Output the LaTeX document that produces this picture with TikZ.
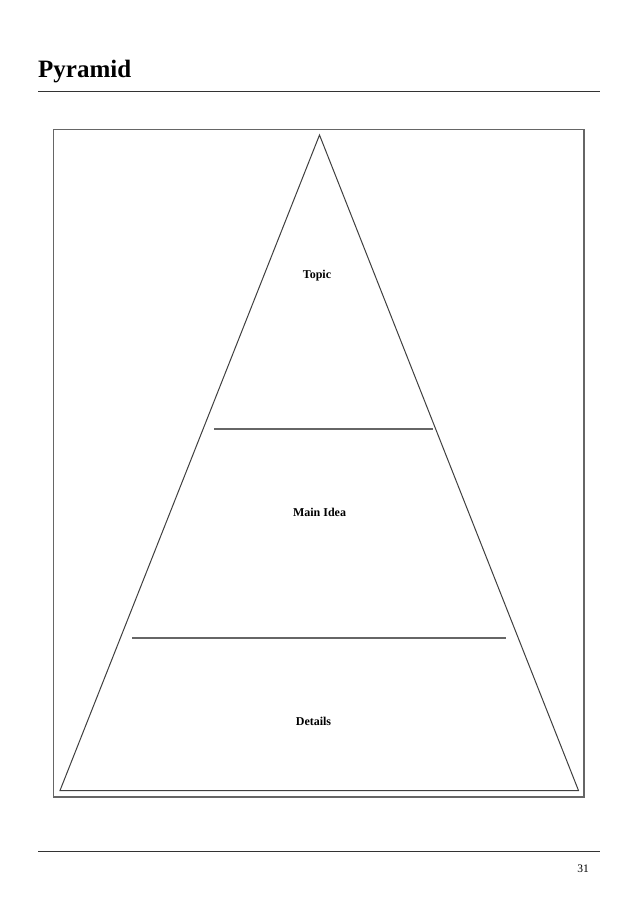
\documentclass[tikz,border=0pt]{standalone}
\usepackage{fontspec}
\setmainfont{Liberation Serif}
\tikzset{
  rulebar/.style={draw=black!80,line width=1pt},
  framebox/.style={draw=black!60,line width=1.3pt},
  pyrside/.style={draw=black!75,line width=1pt},
  layerline/.style={draw=black!60,line width=1.3pt},
  layerlabel/.style={font=\fontsize{12}{14}\selectfont\bfseries,inner sep=0pt},
}
\begin{document}
\begin{tikzpicture}[x=1pt,y=-1pt]
\useasboundingbox[fill=white] (0,0) rectangle (638,903);

\node[anchor=base west,inner sep=0pt,font=\fontsize{25}{30}\selectfont\bfseries] (title) at (38,77) {Pyramid};
\coordinate (tl) at (38,91.5);
\coordinate (tr) at (600,91.5);
\draw[rulebar] (tl) -- (tr);

\coordinate (fa) at (53.5,129.5);
\coordinate (fb) at (584,797);
\draw[framebox] (fa) rectangle (fb);

\coordinate (apex) at (319.5,135);
\coordinate (bl) at (60,790.5);
\coordinate (br) at (578.5,790.5);
\draw[pyrside] (apex) -- (bl) -- (br) -- cycle;

\coordinate (a1) at (214,429);
\coordinate (b1) at (433,429);
\draw[layerline] (a1) -- (b1);
\coordinate (a2) at (132,638);
\coordinate (b2) at (506,638);
\draw[layerline] (a2) -- (b2);

\node[layerlabel] (topic) at (317,276) {Topic};
\node[layerlabel] (mainidea) at (319.5,512) {Main Idea};
\node[layerlabel] (details) at (313.5,721) {Details};

\coordinate (bll) at (38,851);
\coordinate (brr) at (600,851);
\draw[rulebar] (bll) -- (brr);
\node[anchor=base,inner sep=0pt,font=\fontsize{11.5}{14}\selectfont] (page) at (583,872) {31};
\end{tikzpicture}
\end{document}
